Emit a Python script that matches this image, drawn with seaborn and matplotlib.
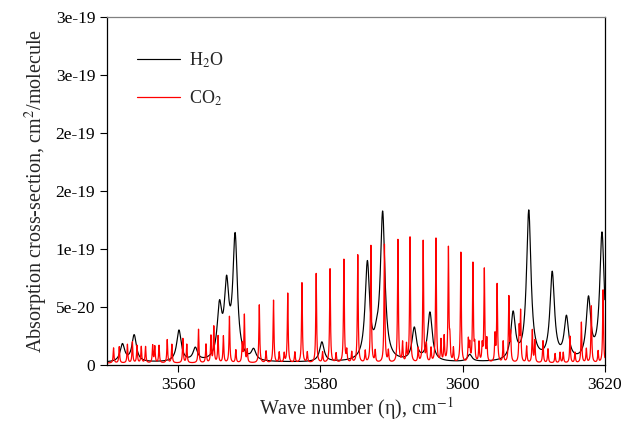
import numpy as np
import pandas as pd
import matplotlib
matplotlib.use("Agg")
import matplotlib.pyplot as plt
import seaborn as sns

# H2O lines: centre (cm-1), peak height (1e-20 cm2/molecule)
h2o_pos = [3552.15, 3553.8, 3560.1, 3562.4, 3565.8, 3566.8, 3568.0, 3570.6,
           3580.2, 3586.6, 3587.9, 3588.75, 3593.2, 3595.4, 3601.0, 3607.1,
           3609.3, 3612.6, 3614.6, 3617.7, 3619.6]
h2o_amp = [1.5, 2.3, 2.7, 1.1, 4.3, 6.0, 10.5, 0.9,
           1.7, 8.3, 1.0, 12.6, 2.8, 4.2, 0.6, 4.0,
           12.9, 7.5, 3.6, 5.2, 11.0]
h2o_width = 0.38
h2o_base = 0.2

# CO2 band lines
co2_pos = [3569.3, 3571.4, 3573.4, 3575.4, 3577.4, 3579.4, 3581.35, 3583.3,
           3585.25, 3587.1, 3589.0, 3590.9, 3592.6, 3594.45, 3596.25, 3598.0,
           3599.75, 3601.45, 3603.05, 3604.85, 3606.5, 3608.15, 3609.8, 3611.3,
           3616.7, 3618.1, 3619.75]
co2_amp = [4.1, 5.0, 5.4, 6.0, 6.9, 7.7, 8.1, 8.9,
           9.3, 10.1, 10.2, 10.6, 10.8, 10.5, 10.7, 9.8,
           9.5, 8.5, 8.0, 6.7, 5.6, 4.3, 2.8, 1.9,
           3.5, 4.9, 6.3]
# CO2 weak lines
co2_weak_pos = [3550.9, 3551.7, 3552.85, 3553.55, 3554.2, 3554.8, 3555.4, 3556.4,
                3556.7, 3557.3, 3558.45, 3559.1, 3560.65, 3561.2, 3562.85, 3563.9,
                3564.6, 3565.0, 3565.6, 3566.35, 3567.2, 3568.1, 3569.0, 3569.7,
                3572.35, 3574.2, 3574.9, 3576.4, 3578.15, 3580.3, 3582.2, 3583.7,
                3584.4, 3586.3, 3587.7, 3589.55, 3591.55, 3592.1, 3593.75, 3594.9,
                3595.55, 3596.95, 3597.4, 3598.2, 3598.7, 3600.8, 3601.0, 3601.7,
                3602.3, 3602.75, 3603.4, 3604.55, 3605.7, 3606.75, 3607.95, 3609.0,
                3610.15, 3612.0, 3613.0, 3613.7, 3614.15, 3615.1, 3615.8, 3617.4,
                3619.05]
co2_weak_amp = [1.3, 1.4, 1.6, 1.8, 1.5, 1.4, 1.4, 1.5,
                1.4, 1.5, 2.0, 1.6, 2.1, 1.6, 2.9, 1.6,
                2.3, 3.1, 2.3, 2.3, 4.0, 1.1, 1.6, 1.1,
                1.0, 0.9, 0.8, 0.9, 0.9, 0.9, 0.8, 1.0,
                0.9, 1.0, 1.0, 1.0, 1.7, 1.5, 1.2, 1.5,
                1.2, 1.9, 2.2, 1.7, 1.2, 1.9, 1.5, 1.3,
                1.7, 1.4, 1.9, 2.3, 1.8, 2.4, 2.9, 1.4,
                1.9, 1.2, 0.8, 0.9, 0.9, 2.3, 0.9, 1.2,
                1.0]
co2_width = 0.07
co2_base = 0.15

xticks = [3560, 3580, 3600, 3620]
yticks = [0, 5e-20, 1e-19, 1.5e-19, 2e-19, 2.5e-19, 3e-19]
ytick_labels = ["0", "5e-20", "1e-19", "2e-19", "2e-19", "3e-19", "3e-19"]


def spectrum(grid, pos, amp, width, base):
    s = np.full_like(grid, base)
    for c, a in zip(pos, amp):
        s += a / (1 + ((grid - c) / width) ** 2)
    return s * 1e-20


wn = np.arange(3550, 3620.005, 0.01)
df = pd.DataFrame({
    "wn": wn,
    "h2o": spectrum(wn, h2o_pos, h2o_amp, h2o_width, h2o_base),
    "co2": spectrum(wn, co2_pos + co2_weak_pos, co2_amp + co2_weak_amp,
                    co2_width, co2_base),
})

sns.set_style("ticks")
plt.rcParams["font.family"] = ["Liberation Serif", "DejaVu Serif"]
plt.rcParams["mathtext.fontset"] = "stix"

fig, ax = plt.subplots(figsize=(6.34, 4.38), dpi=100)
fig.subplots_adjust(left=0.169, right=0.954, bottom=0.167, top=0.961)

sns.lineplot(data=df, x="wn", y="h2o", color="black", lw=0.85,
             label="H$_2$O", ax=ax)
sns.lineplot(data=df, x="wn", y="co2", color="red", lw=0.9,
             label="CO$_2$", ax=ax)

ax.set_xlim(3550, 3620)
ax.set_ylim(0, 3e-19)
ax.set_xticks(xticks)
ax.set_yticks(yticks)
ax.set_yticklabels(ytick_labels)
ax.tick_params(direction="out", length=5, width=0.8, labelsize=12.5,
               colors="black")
ax.set_xlabel("Wave number (η), cm$^{-1}$", fontsize=14.5, labelpad=2)
ax.set_ylabel("Absorption cross-section, cm$^2$/molecule", fontsize=14.5,
              labelpad=4)

for side in ["left", "right", "bottom"]:
    ax.spines[side].set_color("black")
    ax.spines[side].set_linewidth(0.9)
ax.spines["top"].set_color("0.5")
ax.spines["top"].set_linewidth(0.9)

ax.legend(loc="upper left", bbox_to_anchor=(0.027, 0.95), frameon=False,
          handlelength=2.4, handletextpad=0.5, labelspacing=1.0, fontsize=13)

fig.savefig("out.png", dpi=100)
